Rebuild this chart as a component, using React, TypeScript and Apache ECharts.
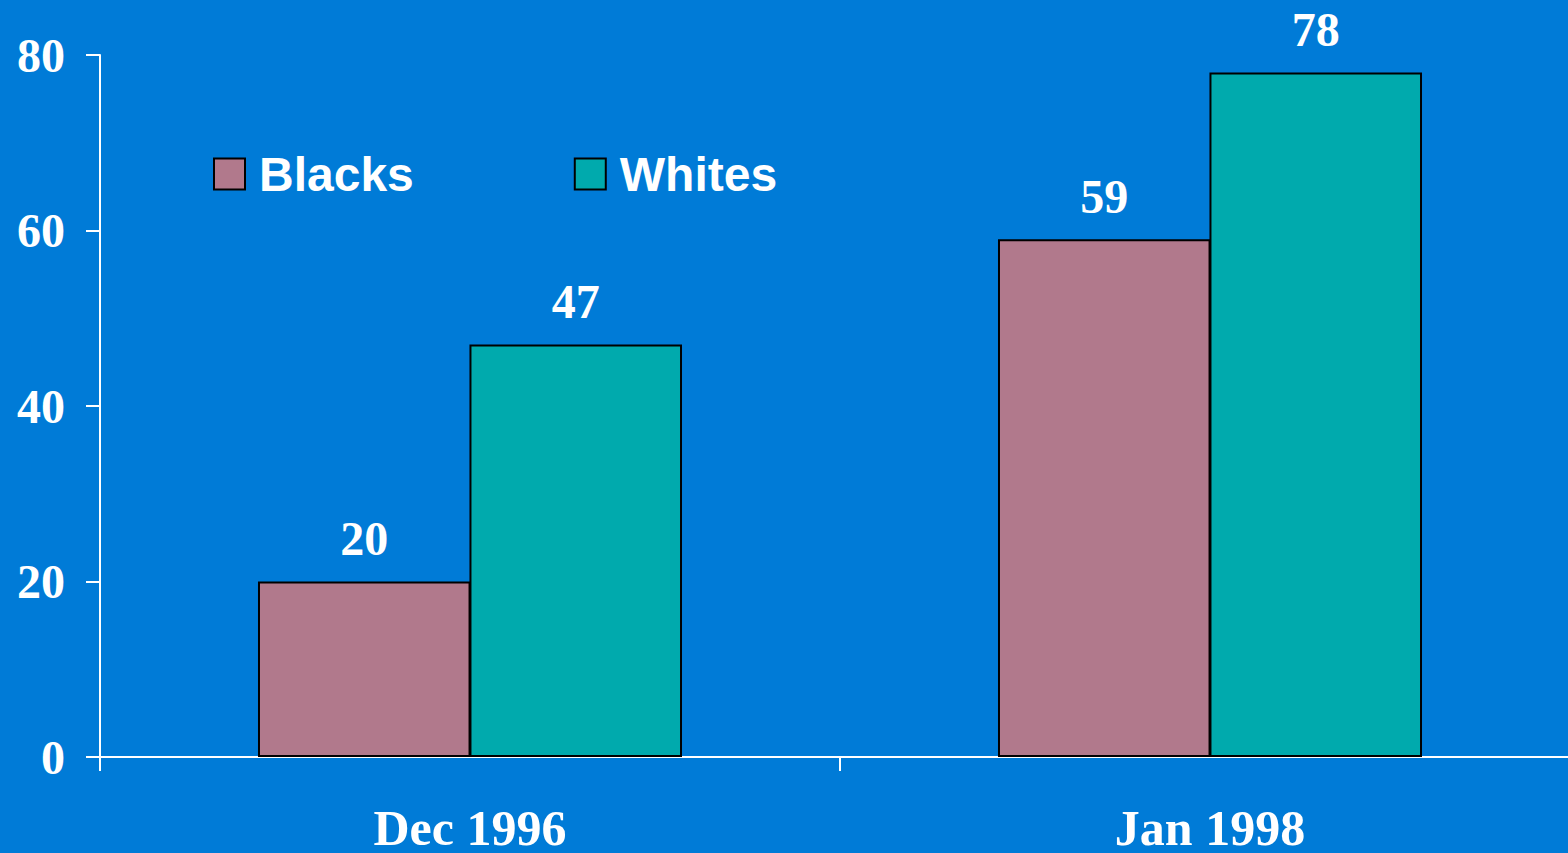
import React, { useEffect, useRef } from "react";
import * as echarts from "echarts";

const categories = ["Dec 1996", "Jan 1998"];
const blacks = [20, 59];
const whites = [47, 78];
const seriesNames = ["Blacks", "Whites"];

const BG = "#007BD7";
const BLACKS_COLOR = "#B1798C";
const WHITES_COLOR = "#00AAAD";
const SERIF = "'Liberation Serif', 'Times New Roman', serif";
const SANS = "'Liberation Sans', Arial, sans-serif";

export default function App() {
  const ref = useRef<HTMLDivElement>(null);
  useEffect(() => {
    if (!ref.current) return;
    const chart = echarts.init(ref.current, undefined, { renderer: "svg" });
    const labelStyle = {
      show: true,
      position: "top" as const,
      distance: 19,
      color: "#fff",
      fontFamily: SERIF,
      fontWeight: "bold" as const,
      fontSize: 48,
    };
    chart.setOption({
      animation: false,
      backgroundColor: BG,
      grid: { left: 100, top: 55, width: 1480, height: 704, containLabel: false },
      legend: {
        left: 213,
        top: 150,
        padding: 0,
        itemWidth: 31,
        itemHeight: 31,
        itemGap: 160,
        icon: "rect",
        data: seriesNames,
        textStyle: {
          color: "#fff",
          fontFamily: SANS,
          fontWeight: "bold",
          fontSize: 48,
          lineHeight: 48,
          padding: [0, 0, 0, 9],
        },
        itemStyle: { borderColor: "#000", borderWidth: 2 },
      },
      xAxis: {
        type: "category",
        data: categories,
        axisLine: { lineStyle: { color: "#fff", width: 2 } },
        axisTick: { show: true, length: 14, lineStyle: { color: "#fff", width: 2 } },
        axisLabel: {
          color: "#fff",
          fontFamily: SERIF,
          fontWeight: "bold",
          fontSize: 50,
          margin: 46,
        },
      },
      yAxis: {
        type: "value",
        min: 0,
        max: 80,
        interval: 20,
        splitLine: { show: false },
        axisLine: { show: true, lineStyle: { color: "#fff", width: 2 } },
        axisTick: { show: true, length: 14, lineStyle: { color: "#fff", width: 2 } },
        axisLabel: {
          color: "#fff",
          fontFamily: SERIF,
          fontWeight: "bold",
          fontSize: 48,
          margin: 35,
        },
      },
      series: [
        {
          name: seriesNames[0],
          type: "bar",
          data: blacks,
          barGap: "-0.5%",
          barCategoryGap: "42.7%",
          itemStyle: { color: BLACKS_COLOR, borderColor: "#000", borderWidth: 2 },
          label: labelStyle,
        },
        {
          name: seriesNames[1],
          type: "bar",
          data: whites,
          barGap: "-0.5%",
          barCategoryGap: "42.7%",
          itemStyle: { color: WHITES_COLOR, borderColor: "#000", borderWidth: 2 },
          label: labelStyle,
        },
      ],
    });
    return () => chart.dispose();
  }, []);
  return (
    <div style={{ position: "fixed", left: 0, top: 0, width: 1568, height: 853, overflow: "hidden", background: BG }}>
      <div ref={ref} style={{ width: 1580, height: 853 }} />
    </div>
  );
}
